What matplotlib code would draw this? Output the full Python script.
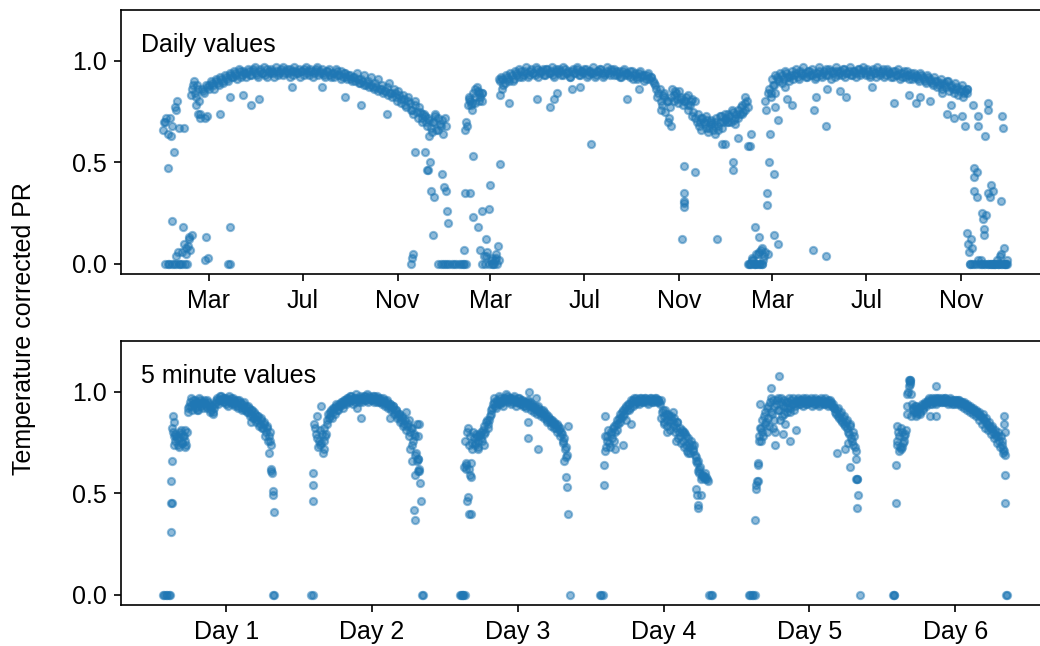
import matplotlib.dates as mdates
import matplotlib.pyplot as plt
import numpy as np

plt.rcParams["font.family"] = ["Liberation Sans", "DejaVu Sans"]
plt.rcParams["font.size"] = 12

# Daily PR: two interleaved runs per year (one value every third day)
# plus extra readings; days counted from the first of January, year one
first_day = np.datetime64("2014-01-01")
day_step = 3

year1_start = 0
year1_pr = [
    0.66, 0.70, 0.64, 0.72, 0.68, 0.77, 0.80, 0.67, 0.06, 0.10,
    0.08, 0.13, 0.83, 0.88, 0.78, 0.86, 0.74, 0.85, 0.72, 0.87,
    0.88, 0.89, 0.86, 0.90, 0.88, 0.91, 0.89, 0.92, 0.90, 0.93,
    0.92, 0.94, 0.91, 0.95, 0.93, 0.94, 0.92, 0.95, 0.93, 0.96,
    0.94, 0.92, 0.95, 0.94, 0.93, 0.96, 0.94, 0.95, 0.92, 0.95,
    0.94, 0.96, 0.93, 0.95, 0.94, 0.96, 0.93, 0.95, 0.94, 0.92,
    0.95, 0.96, 0.94, 0.93, 0.95, 0.94, 0.96, 0.93, 0.95, 0.94,
    0.92, 0.95, 0.93, 0.94, 0.92, 0.95, 0.93, 0.91, 0.94, 0.92,
    0.93, 0.91, 0.92, 0.90, 0.91, 0.89, 0.90, 0.88, 0.89, 0.87,
    0.88, 0.86, 0.87, 0.85, 0.86, 0.84, 0.85, 0.83, 0.84, 0.82,
    0.84, 0.80, 0.83, 0.79, 0.81, 0.77, 0.80, 0.76, 0.74, 0.78,
    0.72, 0.75, 0.70, 0.73, 0.68, 0.71, 0.65, 0.70, 0.66, 0.72,
    0.68, 0.64,
]
year1_mid_start = 38
year1_pr_mid = [
    0.86, 0.84, 0.88, 0.80, 0.86, 0.84, 0.88, 0.86, 0.90,
    0.88, 0.91, 0.89, 0.92, 0.90, 0.93, 0.91, 0.94, 0.92,
    0.95, 0.93, 0.96, 0.92, 0.95, 0.94, 0.96, 0.93, 0.95, 0.97,
    0.93, 0.96, 0.94, 0.97, 0.92, 0.95, 0.96, 0.94, 0.97, 0.93,
    0.95, 0.97, 0.94, 0.96, 0.92, 0.95, 0.97, 0.94, 0.96, 0.95,
    0.93, 0.97, 0.95, 0.96, 0.92, 0.95, 0.97, 0.94, 0.96, 0.93,
    0.95, 0.96, 0.92, 0.94, 0.96, 0.93, 0.95, 0.92, 0.94, 0.91,
    0.93, 0.90, 0.92, 0.94, 0.89, 0.91, 0.93, 0.88, 0.90, 0.92,
    0.87, 0.89, 0.91, 0.86, 0.88, 0.85, 0.87, 0.89, 0.84, 0.86,
    0.82, 0.85, 0.81, 0.83, 0.78, 0.82, 0.79, 0.76, 0.80, 0.75,
    0.77, 0.72, 0.74, 0.70, 0.72, 0.67, 0.70, 0.73, 0.66, 0.69, 0.71,
]
year1_extra = [
    (3, 0.0), (6, 0.0), (8, 0.0), (11, 0.0), (14, 0.0), (17, 0.0),
    (20, 0.0), (22, 0.0), (25, 0.0), (28, 0.0), (31, 0.0), (12, 0.21),
    (16, 0.04), (19, 0.06), (26, 0.18), (29, 0.05), (32, 0.09), (34, 0.12),
    (35, 0.07), (37, 0.14), (55, 0.13), (54, 0.02), (58, 0.03), (84, 0.0),
    (86, 0.0), (87, 0.18), (6, 0.47), (14, 0.55), (1, 0.70), (4, 0.72),
    (10, 0.63), (16, 0.76), (27, 0.67), (40, 0.90), (43, 0.82), (45, 0.74),
    (48, 0.72), (57, 0.73), (74, 0.74), (87, 0.82), (104, 0.83), (114, 0.78),
    (124, 0.81), (167, 0.87), (206, 0.87), (236, 0.82), (256, 0.78),
    (290, 0.74), (322, 0.0), (323, 0.03), (324, 0.05), (326, 0.55),
    (340, 0.55), (342, 0.46), (344, 0.46), (346, 0.50), (347, 0.36),
    (351, 0.33), (350, 0.14), (362, 0.44), (364, 0.38), (357, 0.0),
    (360, 0.0), (363, 0.0), (336, 0.74), (345, 0.63), (353, 0.74),
]

year2_start = 365
year2_pr = [
    0.0, 0.0, 0.0, 0.0, 0.0, 0.0, 0.0, 0.0, 0.0, 0.66,
    0.78, 0.80, 0.76, 0.82, 0.87, 0.80, 0.84, 0.04, 0.12, 0.27,
    0.02, 0.0, 0.03, 0.09, 0.90, 0.91, 0.89, 0.92, 0.90, 0.93,
    0.91, 0.94, 0.92, 0.95, 0.93, 0.94, 0.92, 0.95, 0.94, 0.93,
    0.96, 0.94, 0.95, 0.93, 0.96, 0.94, 0.95, 0.93, 0.96, 0.94,
    0.95, 0.93, 0.96, 0.94, 0.92, 0.95, 0.94, 0.96, 0.93, 0.95,
    0.94, 0.96, 0.93, 0.95, 0.94, 0.92, 0.95, 0.96, 0.94, 0.93,
    0.95, 0.94, 0.96, 0.93, 0.95, 0.94, 0.92, 0.95, 0.93, 0.94,
    0.92, 0.95, 0.93, 0.91, 0.94, 0.92, 0.93, 0.91, 0.94, 0.92,
    0.90, 0.88, 0.82, 0.86, 0.78, 0.84, 0.80, 0.72, 0.82, 0.80,
    0.84, 0.79, 0.81, 0.78, 0.80, 0.76, 0.78, 0.73, 0.80, 0.70,
    0.68, 0.66, 0.70, 0.67, 0.65, 0.69, 0.66, 0.64, 0.68, 0.70,
    0.67, 0.71,
]
year2_mid_start = 393
year2_pr_mid = [
    0.70, 0.81, 0.78, 0.84, 0.79, 0.85, 0.82, 0.80,
    0.0, 0.06, 0.0, 0.03, 0.0, 0.05, 0.91,
    0.92, 0.88, 0.93, 0.91, 0.94, 0.90, 0.95, 0.93, 0.96, 0.92,
    0.95, 0.97, 0.93, 0.96, 0.94, 0.97, 0.92, 0.95, 0.96, 0.93,
    0.96, 0.94, 0.97, 0.92, 0.95, 0.96, 0.93, 0.97, 0.94, 0.95,
    0.92, 0.96, 0.94, 0.97, 0.93, 0.95, 0.96, 0.92, 0.95, 0.94,
    0.97, 0.93, 0.95, 0.96, 0.92, 0.94, 0.97, 0.93, 0.95, 0.96,
    0.93, 0.95, 0.92, 0.96, 0.94, 0.93, 0.95, 0.91, 0.94, 0.92,
    0.95, 0.93, 0.90, 0.93, 0.91, 0.92, 0.89, 0.86, 0.84, 0.80,
    0.83, 0.75, 0.80, 0.77, 0.86, 0.83, 0.81, 0.85, 0.82, 0.80,
    0.82, 0.78, 0.80, 0.75, 0.72, 0.74, 0.70, 0.72, 0.69, 0.71,
    0.67, 0.70, 0.68, 0.72, 0.66, 0.73, 0.70, 0.74,
]
year2_extra = [
    (367, 0.36), (368, 0.26), (369, 0.20), (366, 0.72), (367, 0.68),
    (390, 0.07), (390, 0.0), (393, 0.0), (392, 0.35), (398, 0.35),
    (402, 0.53), (402, 0.23), (408, 0.18), (411, 0.07), (414, 0.26),
    (414, 0.0), (418, 0.04), (424, 0.39), (427, 0.0), (430, 0.02),
    (433, 0.0), (436, 0.02), (437, 0.49), (394, 0.68), (397, 0.82),
    (400, 0.79), (405, 0.86), (410, 0.84), (414, 0.84), (437, 0.83),
    (440, 0.86), (449, 0.79), (485, 0.81), (501, 0.77), (507, 0.81),
    (511, 0.84), (530, 0.86), (541, 0.87), (555, 0.59), (601, 0.81),
    (617, 0.86), (645, 0.76), (650, 0.82), (655, 0.70), (658, 0.68),
    (664, 0.85), (673, 0.12), (675, 0.35), (675, 0.31), (676, 0.28),
    (676, 0.30), (675, 0.48), (680, 0.83), (689, 0.45), (686, 0.81),
    (698, 0.72), (704, 0.73), (710, 0.71), (716, 0.70), (718, 0.12),
    (722, 0.73), (725, 0.59), (729, 0.59),
]

year3_start = 730
year3_pr = [
    0.72, 0.74, 0.70, 0.75, 0.72, 0.76, 0.74, 0.78, 0.76, 0.80,
    0.0, 0.02, 0.0, 0.05, 0.0, 0.07, 0.02, 0.80, 0.84, 0.64,
    0.91, 0.84, 0.92, 0.90, 0.93, 0.91, 0.94, 0.92, 0.93, 0.91,
    0.94, 0.92, 0.95, 0.93, 0.94, 0.92, 0.95, 0.93, 0.94, 0.92,
    0.95, 0.93, 0.94, 0.96, 0.93, 0.95, 0.94, 0.92, 0.95, 0.94,
    0.93, 0.96, 0.94, 0.95, 0.93, 0.95, 0.94, 0.96, 0.93, 0.95,
    0.94, 0.96, 0.93, 0.95, 0.94, 0.92, 0.95, 0.94, 0.96, 0.93,
    0.95, 0.94, 0.92, 0.95, 0.93, 0.94, 0.92, 0.95, 0.93, 0.91,
    0.94, 0.92, 0.93, 0.91, 0.94, 0.92, 0.90, 0.93, 0.91, 0.89,
    0.92, 0.90, 0.88, 0.91, 0.89, 0.87, 0.90, 0.88, 0.86, 0.89,
    0.87, 0.85, 0.88, 0.84, 0.86, 0.06, 0.12, 0.43, 0.0, 0.02,
    0.0, 0.22, 0.0, 0.35, 0.33, 0.0, 0.0, 0.02, 0.0, 0.31,
    0.0, 0.0,
]
year3_mid_start = 731
year3_pr_mid = [
    0.70, 0.73, 0.76, 0.71, 0.74, 0.72, 0.77, 0.75, 0.79, 0.77,
    0.0, 0.03, 0.0, 0.0, 0.06, 0.0, 0.04, 0.76, 0.86, 0.82,
    0.88, 0.93, 0.91, 0.94, 0.89, 0.95, 0.92, 0.90, 0.95, 0.93,
    0.96, 0.91, 0.94, 0.97, 0.92, 0.95, 0.93, 0.96, 0.91, 0.94,
    0.97, 0.92, 0.95, 0.93, 0.96, 0.91, 0.95, 0.97, 0.93, 0.95,
    0.96, 0.92, 0.94, 0.97, 0.93, 0.95, 0.92, 0.96, 0.94, 0.97,
    0.93, 0.95, 0.92, 0.96, 0.94, 0.97, 0.93, 0.95, 0.92, 0.96,
    0.94, 0.92, 0.95, 0.93, 0.96, 0.91, 0.94, 0.92, 0.95, 0.93,
    0.91, 0.94, 0.92, 0.90, 0.93, 0.91, 0.89, 0.92, 0.90, 0.88,
    0.90, 0.87, 0.89, 0.86, 0.88, 0.90, 0.85, 0.87, 0.84, 0.86,
    0.83, 0.86, 0.82, 0.85, 0.84, 0.0, 0.08, 0.0, 0.45, 0.0,
    0.02, 0.0, 0.24, 0.0, 0.0, 0.36, 0.0, 0.0, 0.04, 0.0,
    0.0, 0.02,
]
year3_extra = [
    (739, 0.50), (739, 0.46), (746, 0.62), (758, 0.58), (761, 0.58),
    (762, 0.64), (733, 0.70), (742, 0.69), (751, 0.74), (755, 0.82),
    (759, 0.0), (762, 0.0), (765, 0.02), (768, 0.0), (771, 0.05),
    (774, 0.0), (777, 0.0), (767, 0.18), (772, 0.13), (776, 0.08),
    (780, 0.06), (784, 0.05), (783, 0.35), (783, 0.29), (785, 0.50),
    (792, 0.44), (792, 0.14), (797, 0.10), (794, 0.77), (797, 0.71),
    (788, 0.84), (792, 0.88), (807, 0.87), (809, 0.81), (816, 0.78),
    (843, 0.07), (844, 0.76), (846, 0.82), (859, 0.04), (859, 0.68),
    (861, 0.86), (878, 0.85), (885, 0.82), (919, 0.87), (948, 0.79),
    (967, 0.83), (976, 0.79), (982, 0.82), (995, 0.80), (1010, 0.84),
    (1017, 0.74), (1021, 0.78), (1025, 0.72), (1036, 0.73), (1040, 0.68),
    (1043, 0.86), (1043, 0.15), (1044, 0.10), (1046, 0.0), (1049, 0.0),
    (1051, 0.47), (1051, 0.36), (1050, 0.78), (1055, 0.33), (1056, 0.73),
    (1056, 0.68), (1062, 0.25), (1064, 0.17), (1064, 0.14), (1062, 0.0),
    (1066, 0.63), (1069, 0.0), (1070, 0.79), (1070, 0.76), (1073, 0.39),
    (1072, 0.0), (1076, 0.0), (1079, 0.0), (1082, 0.0), (1086, 0.05),
    (1088, 0.73), (1089, 0.67), (1090, 0.08), (1092, 0.0), (1094, 0.0),
    (1086, 0.0),
]

# 5 minute PR over six days: two interleaved quarter-hour runs per day
# plus extra readings; hours counted from midnight before day 1
hour_step = 0.25
day_labels = ["Day 1", "Day 2", "Day 3", "Day 4", "Day 5", "Day 6"]

day1_start = 1.75
day1_pr = [
    0.0, 0.0, 0.0, 0.0, 0.0, 0.45, 0.80, 0.76, 0.78, 0.74,
    0.77, 0.79, 0.75, 0.78, 0.76, 0.80, 0.92, 0.95, 0.93, 0.96,
    0.94, 0.92, 0.95, 0.97, 0.93, 0.95, 0.96, 0.94, 0.92, 0.95,
    0.93, 0.91, 0.90, 0.92, 0.95, 0.97, 0.96, 0.98, 0.96, 0.97,
    0.95, 0.97, 0.96, 0.96, 0.97, 0.95, 0.96, 0.94, 0.96, 0.93,
    0.95, 0.92, 0.94, 0.91, 0.93, 0.90, 0.92, 0.89, 0.91, 0.87,
    0.89, 0.86, 0.88, 0.84, 0.86, 0.82, 0.84, 0.80, 0.82, 0.78,
    0.76, 0.60, 0.0,
]
day1_mid_start = 3.125
day1_pr_mid = [
    0.82, 0.74, 0.79, 0.77, 0.73, 0.80, 0.75, 0.78, 0.81, 0.74,
    0.90, 0.93, 0.97, 0.91, 0.94, 0.96, 0.93, 0.91, 0.96, 0.94,
    0.92, 0.95, 0.93, 0.96, 0.94, 0.90, 0.93, 0.89, 0.94, 0.96,
    0.94, 0.96, 0.98, 0.95, 0.97, 0.94, 0.96, 0.98, 0.95, 0.94,
    0.97, 0.93, 0.95, 0.92, 0.96, 0.94, 0.91, 0.95, 0.92, 0.90,
    0.93, 0.88, 0.91, 0.87, 0.90, 0.85, 0.88, 0.83, 0.87, 0.82,
    0.85, 0.78, 0.83, 0.76, 0.80, 0.74,
]
day1_extra = [
    (2.9, 0.31), (2.9, 0.45), (2.95, 0.56), (3.05, 0.66), (3.2, 0.88),
    (3.3, 0.85), (3.4, 0.78), (5.2, 0.73), (4.6, 0.81), (19.1, 0.70),
    (19.4, 0.62), (19.3, 0.61), (19.6, 0.51), (19.65, 0.49), (19.8, 0.41),
    (19.9, 0.0), (1.6, 0.0), (7.2, 0.91), (12.2, 0.93), (16.1, 0.85),
]

day2_start = 26.0
day2_pr = [
    0.0, 0.54, 0.84, 0.79, 0.88, 0.76, 0.74, 0.79, 0.72, 0.78,
    0.86, 0.89, 0.88, 0.91, 0.90, 0.92, 0.93, 0.91, 0.94, 0.93,
    0.95, 0.94, 0.96, 0.95, 0.97, 0.96, 0.98, 0.96, 0.97, 0.95,
    0.92, 0.97, 0.98, 0.96, 0.97, 0.98, 0.96, 0.97, 0.98, 0.97,
    0.96, 0.98, 0.97, 0.95, 0.97, 0.96, 0.95, 0.97, 0.95, 0.94,
    0.96, 0.93, 0.94, 0.92, 0.93, 0.90, 0.91, 0.88, 0.89, 0.86,
    0.87, 0.84, 0.90, 0.83, 0.86, 0.80, 0.82, 0.76, 0.78, 0.70,
    0.67, 0.62, 0.46, 0.0,
]
day2_mid_start = 26.625
day2_pr_mid = [
    0.82, 0.77, 0.73, 0.81, 0.75, 0.70, 0.76, 0.79, 0.84, 0.87,
    0.90, 0.87, 0.92, 0.89, 0.94, 0.91, 0.93, 0.95, 0.92, 0.96,
    0.94, 0.97, 0.95, 0.98, 0.96, 0.94, 0.97, 0.99, 0.96, 0.95,
    0.97, 0.95, 0.98, 0.96, 0.99, 0.95, 0.97, 0.96, 0.98, 0.95,
    0.96, 0.98, 0.95, 0.97, 0.94, 0.96, 0.93, 0.95, 0.92, 0.94,
    0.91, 0.93, 0.89, 0.91, 0.87, 0.89, 0.85, 0.88, 0.83, 0.86,
    0.81, 0.84, 0.78, 0.82, 0.74, 0.79, 0.69, 0.66, 0.61, 0.55,
]
day2_extra = [
    (26.2, 0.0), (26.25, 0.60), (26.3, 0.46), (42.9, 0.42), (43.1, 0.37),
    (43.0, 0.59), (43.4, 0.84), (43.5, 0.78), (43.5, 0.67), (43.8, 0.84),
    (43.7, 0.61), (44.3, 0.0), (34.2, 0.87), (38.9, 0.87), (27.6, 0.93),
    (28.1, 0.82), (42.2, 0.72), (42.6, 0.66),
]

day3_start = 50.5
day3_pr = [
    0.0, 0.0, 0.0, 0.76, 0.64, 0.82, 0.62, 0.65, 0.75, 0.77,
    0.74, 0.78, 0.76, 0.79, 0.77, 0.81, 0.79, 0.85, 0.82, 0.86,
    0.89, 0.92, 0.95, 0.93, 0.96, 0.94, 0.97, 0.95, 0.95, 0.97,
    0.96, 0.98, 0.96, 0.97, 0.95, 0.97, 0.96, 0.95, 0.97, 0.95,
    0.96, 0.94, 0.95, 0.93, 0.95, 0.94, 0.95, 0.93, 0.92, 0.93,
    0.91, 0.92, 0.90, 0.91, 0.89, 0.90, 0.88, 0.86, 0.88, 0.85,
    0.86, 0.84, 0.85, 0.82, 0.84, 0.81, 0.82, 0.79, 0.76, 0.72,
    0.58, 0.40, 0.0,
]
day3_mid_start = 51.375
day3_pr_mid = [
    0.65, 0.80, 0.74, 0.78, 0.72, 0.80, 0.75, 0.79, 0.73, 0.78,
    0.80, 0.76, 0.83, 0.80, 0.86, 0.84, 0.88, 0.91, 0.94, 0.97,
    0.92, 0.95, 0.98, 0.94, 0.96, 0.93, 0.97, 0.99, 0.95, 0.97,
    0.94, 0.96, 0.98, 0.93, 0.95, 0.97, 0.94, 0.96, 0.93, 0.95,
    0.92, 0.96, 0.93, 0.91, 0.94, 0.90, 0.92, 0.89, 0.93, 0.90,
    0.88, 0.91, 0.87, 0.89, 0.85, 0.87, 0.83, 0.86, 0.82, 0.84,
    0.80, 0.83, 0.78, 0.80, 0.75, 0.77, 0.73, 0.69,
]
day3_extra = [
    (51.0, 0.0), (51.3, 0.0), (50.7, 0.0), (51.2, 0.63), (51.5, 0.62),
    (51.6, 0.46), (51.8, 0.48), (51.9, 0.40), (52.2, 0.40), (52.1, 0.59),
    (52.3, 0.58), (61.9, 1.00), (63.0, 0.97), (61.6, 0.77), (61.6, 0.85),
    (63.3, 0.72), (68.1, 0.53), (68.2, 0.83), (68.0, 0.68), (67.6, 0.66),
    (53.5, 0.72), (54.4, 0.74),
]

day4_start = 73.5
day4_pr = [
    0.0, 0.0, 0.0, 0.64, 0.73, 0.78, 0.75, 0.80, 0.77, 0.83,
    0.80, 0.86, 0.84, 0.89, 0.87, 0.91, 0.89, 0.93, 0.91, 0.94,
    0.92, 0.95, 0.96, 0.94, 0.97, 0.95, 0.96, 0.97, 0.95, 0.96,
    0.97, 0.95, 0.96, 0.97, 0.96, 0.95, 0.96, 0.97, 0.96, 0.95,
    0.96, 0.90, 0.88, 0.91, 0.86, 0.89, 0.85, 0.88, 0.83, 0.87,
    0.82, 0.85, 0.80, 0.78, 0.81, 0.76, 0.79, 0.74, 0.77, 0.73,
    0.76, 0.71, 0.74, 0.68, 0.65, 0.62, 0.63, 0.58, 0.59, 0.57,
    0.58, 0.56, 0.0, 0.0, 0.0,
]
day4_mid_start = 74.375
day4_pr_mid = [
    0.71, 0.76, 0.81, 0.73, 0.79, 0.82, 0.76, 0.84, 0.81, 0.87,
    0.85, 0.90, 0.88, 0.92, 0.86, 0.94, 0.91, 0.96, 0.93, 0.97,
    0.95, 0.96, 0.94, 0.97, 0.96, 0.95, 0.97, 0.96, 0.94, 0.96,
    0.97, 0.95, 0.96, 0.97, 0.95, 0.96, 0.94, 0.87, 0.91, 0.85,
    0.89, 0.83, 0.88, 0.81, 0.86, 0.84, 0.80, 0.85, 0.77, 0.82,
    0.75, 0.80, 0.73, 0.78, 0.71, 0.75, 0.70, 0.74, 0.72, 0.69,
    0.66, 0.61, 0.60, 0.57, 0.59, 0.58, 0.60, 0.57,
]
day4_extra = [
    (74.1, 0.54), (74.3, 0.78), (74.4, 0.88), (77.3, 0.74), (78.7, 0.84),
    (76.0, 0.72), (89.6, 0.66), (89.4, 0.52), (89.5, 0.49), (90.1, 0.49),
    (89.6, 0.44), (89.7, 0.43), (88.0, 0.70), (86.0, 0.76), (84.5, 0.80),
    (84.0, 0.84), (85.5, 0.90), (87.3, 0.80),
]

day5_start = 98.25
day5_pr = [
    0.0, 0.0, 0.0, 0.0, 0.52, 0.64, 0.78, 0.82, 0.80, 0.88,
    0.84, 0.92, 0.87, 0.95, 0.90, 0.96, 0.86, 0.94, 0.97, 0.91,
    0.95, 0.88, 0.96, 0.93, 0.90, 0.95, 0.92, 0.96, 0.94, 0.91,
    0.95, 0.96, 0.94, 0.96, 0.95, 0.97, 0.95, 0.94, 0.96, 0.95,
    0.97, 0.95, 0.94, 0.96, 0.95, 0.96, 0.94, 0.95, 0.96, 0.94,
    0.95, 0.96, 0.94, 0.95, 0.93, 0.92, 0.90, 0.91, 0.88, 0.89,
    0.86, 0.87, 0.84, 0.85, 0.82, 0.79, 0.83, 0.76, 0.80, 0.73,
    0.67, 0.49, 0.0,
]
day5_mid_start = 99.375
day5_pr_mid = [
    0.56, 0.76, 0.82, 0.86, 0.78, 0.90, 0.85, 0.93, 0.83, 0.97,
    0.89, 0.93, 0.80, 0.96, 0.91, 0.86, 0.97, 0.93, 0.89, 0.95,
    0.92, 0.97, 0.90, 0.94, 0.97, 0.93, 0.95, 0.97, 0.94, 0.96,
    0.93, 0.96, 0.97, 0.94, 0.96, 0.95, 0.93, 0.96, 0.97, 0.94,
    0.96, 0.93, 0.97, 0.95, 0.94, 0.97, 0.95, 0.93, 0.96, 0.94,
    0.94, 0.92, 0.89, 0.92, 0.87, 0.90, 0.85, 0.88, 0.83, 0.86,
    0.80, 0.84, 0.77, 0.74, 0.78, 0.71, 0.57,
]
day5_extra = [
    (98.0, 0.0), (99.1, 0.37), (99.2, 0.54), (99.5, 0.65), (99.6, 0.56),
    (99.8, 0.94), (100.0, 0.76), (101.7, 1.02), (103.0, 1.08), (102.3, 0.74),
    (103.6, 0.79), (104.8, 0.76), (105.8, 0.81), (101.0, 0.80), (102.0, 0.82),
    (104.0, 0.84), (112.5, 0.70), (114.6, 0.63), (115.7, 0.57), (115.9, 0.57),
    (115.8, 0.43), (113.8, 0.72), (114.3, 0.75),
]

day6_start = 121.75
day6_pr = [
    0.0, 0.0, 0.64, 0.74, 0.78, 0.72, 0.80, 0.76, 0.79, 0.89,
    1.00, 1.05, 0.99, 0.92, 0.90, 0.93, 0.89, 0.92, 0.90, 0.94,
    0.92, 0.95, 0.94, 0.96, 0.95, 0.96, 0.94, 0.96, 0.95, 0.97,
    0.95, 0.96, 0.95, 0.96, 0.97, 0.95, 0.96, 0.95, 0.96, 0.94,
    0.95, 0.96, 0.95, 0.96, 0.94, 0.95, 0.94, 0.95, 0.93, 0.94,
    0.92, 0.93, 0.91, 0.92, 0.90, 0.91, 0.89, 0.90, 0.88, 0.89,
    0.86, 0.87, 0.84, 0.85, 0.82, 0.83, 0.80, 0.81, 0.78, 0.80,
    0.76, 0.78, 0.74, 0.71, 0.59, 0.0,
]
day6_mid_start = 122.375
day6_pr_mid = [
    0.76, 0.80, 0.73, 0.82, 0.75, 0.78, 0.81, 0.93, 1.03, 1.06,
    0.94, 0.91, 0.93, 0.90, 0.92, 0.89, 0.93, 0.91, 0.94, 0.93,
    0.95, 0.97, 0.94, 0.97, 0.95, 0.97, 0.94, 0.96, 0.97, 0.95,
    0.97, 0.95, 0.97, 0.96, 0.94, 0.97, 0.95, 0.96, 0.94, 0.96,
    0.94, 0.96, 0.93, 0.95, 0.92, 0.94, 0.91, 0.93, 0.90, 0.92,
    0.89, 0.91, 0.88, 0.90, 0.86, 0.88, 0.84, 0.87, 0.82, 0.85,
    0.81, 0.83, 0.79, 0.82, 0.77, 0.79, 0.75, 0.78, 0.73, 0.76,
    0.72, 0.80,
]
day6_extra = [
    (122.0, 0.0), (122.2, 0.45), (122.4, 0.83), (122.8, 0.71), (123.3, 0.73),
    (124.1, 0.99), (124.4, 1.06), (124.6, 1.04), (124.6, 1.06), (124.8, 0.88),
    (125.5, 0.88), (128.9, 1.03), (127.8, 0.88), (128.9, 0.88), (140.1, 0.88),
    (140.1, 0.84), (140.15, 0.69), (140.2, 0.45), (139.8, 0.70), (140.4, 0.0),
]

daily_runs = [
    (year1_start, year1_pr), (year1_mid_start, year1_pr_mid),
    (year2_start, year2_pr), (year2_mid_start, year2_pr_mid),
    (year3_start, year3_pr), (year3_mid_start, year3_pr_mid),
]
daily_extra = year1_extra + year2_extra + year3_extra

five_min_runs = [
    (day1_start, day1_pr), (day1_mid_start, day1_pr_mid),
    (day2_start, day2_pr), (day2_mid_start, day2_pr_mid),
    (day3_start, day3_pr), (day3_mid_start, day3_pr_mid),
    (day4_start, day4_pr), (day4_mid_start, day4_pr_mid),
    (day5_start, day5_pr), (day5_mid_start, day5_pr_mid),
    (day6_start, day6_pr), (day6_mid_start, day6_pr_mid),
]
five_min_extra = (day1_extra + day2_extra + day3_extra
                  + day4_extra + day5_extra + day6_extra)


def collect(runs, extra, step):
    xs, ys = [], []
    for start, values in runs:
        xs.extend(start + step * np.arange(len(values)))
        ys.extend(values)
    xs.extend(x for x, _ in extra)
    ys.extend(y for _, y in extra)
    return np.array(xs), np.array(ys)


def style_panel(ax, label):
    ax.set_ylim(-0.05, 1.25)
    ax.set_yticks([0.0, 0.5, 1.0])
    ax.text(0.022, 0.842, label, transform=ax.transAxes, va="baseline")


scatter_kw = dict(s=12, color="C0", alpha=0.5, linewidths=1.0)

fig = plt.figure(figsize=(1040 / 150, 646 / 150), dpi=150)
# right edge runs slightly past the figure, so the right spine is cut off
ax_daily = fig.add_axes([121 / 1040, 372 / 646, 928 / 1040, 264 / 646])
ax_5min = fig.add_axes([121 / 1040, 41 / 646, 928 / 1040, 264 / 646])

day_offsets, daily_pr = collect(daily_runs, daily_extra, day_step)
dates = first_day + day_offsets.astype(int).astype("timedelta64[D]")
ax_daily.scatter(dates, daily_pr, **scatter_kw)
ax_daily.xaxis.set_major_locator(mdates.MonthLocator(bymonth=[3, 7, 11]))
ax_daily.xaxis.set_major_formatter(mdates.DateFormatter("%b"))
style_panel(ax_daily, "Daily values")

hours, five_min_pr = collect(five_min_runs, five_min_extra, hour_step)
ax_5min.scatter(hours, five_min_pr, **scatter_kw)
ax_5min.set_xticks([12 + 24 * i for i in range(len(day_labels))])
ax_5min.set_xticklabels(day_labels)
style_panel(ax_5min, "5 minute values")

fig.text(24 / 1040, 0.491, "Temperature corrected PR", rotation=90,
         ha="center", va="center")

fig.savefig("out.png", dpi=150)
